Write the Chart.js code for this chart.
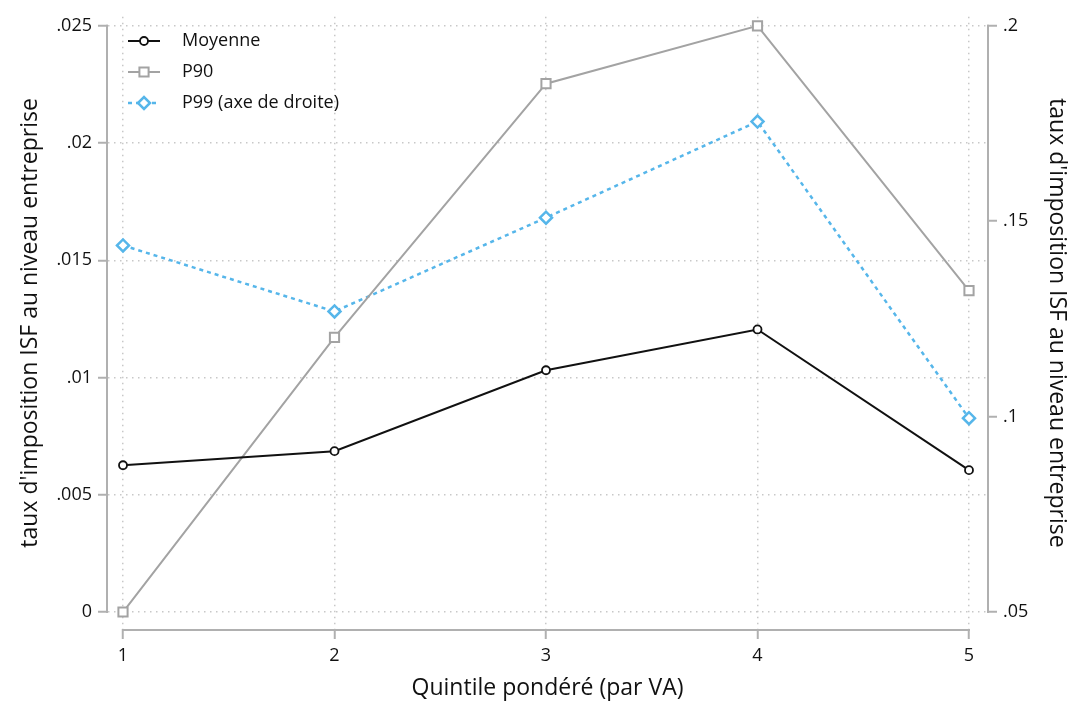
<!DOCTYPE html>
<html>
<head>
<meta charset="utf-8">
<script src="https://cdn.jsdelivr.net/npm/chart.js@4.4.1/dist/chart.umd.min.js"></script>
<style>
  html, body { margin: 0; padding: 0; background: #fff; }
  #wrap { width: 1070px; height: 702px; position: relative; }
</style>
</head>
<body>
<div id="wrap"><canvas id="myChart"></canvas></div>
<script>
// valeurs
const quintiles = [1, 2, 3, 4, 5];
const moyenne = [0.00626, 0.00686, 0.01031, 0.01205, 0.00605];
const p90 = [0.0000, 0.01171, 0.02253, 0.0250, 0.01371];
const p99 = [0.1438, 0.1269, 0.1509, 0.1755, 0.0996];

const xTicks = [1, 2, 3, 4, 5];
const leftTicks = [0, 0.005, 0.01, 0.015, 0.02, 0.025];
const rightTicks = [0.05, 0.1, 0.15, 0.2];

const seriesNames = ['Moyenne', 'P90', 'P99 (axe de droite)'];
const xTitle = 'Quintile pondéré (par VA)';
const yTitle = "taux d'imposition ISF au niveau entreprise";

const FONT = "'Open Sans', 'DejaVu Sans', sans-serif";
const axisColor = '#b0b0b0';
const gridColor = '#c8c8c8';

// marge autour de la plage des graduations (façon Stata)
function paddedRange(ticks, padLow, padHigh) {
    const lo = ticks[0], hi = ticks[ticks.length - 1];
    return { min: lo - (hi - lo) * padLow, max: hi + (hi - lo) * padHigh };
}
const xr = paddedRange(xTicks, 15 / 846, 18 / 846);
const yr = paddedRange(leftTicks, 17 / 587, 9 / 587);
const y1r = paddedRange(rightTicks, 17 / 587, 9 / 587);

function fmt(v) {
    if (v === 0) return '0';
    return String(+v.toFixed(4)).replace(/^0\./, '.');
}

function toPoints(vals) {
    return vals.map((v, i) => ({ x: quintiles[i], y: v }));
}

// lignes d'axes limitées à la plage des graduations
const axisLines = {
    id: 'axisLines',
    afterDraw(chart) {
        const ctx = chart.ctx;
        const { x, y, y1 } = chart.scales;
        ctx.save();
        ctx.strokeStyle = axisColor;
        ctx.lineWidth = 2;
        ctx.setLineDash([]);
        ctx.beginPath();
        ctx.moveTo(y.right - 1, y.getPixelForValue(leftTicks[leftTicks.length - 1]) - 1);
        ctx.lineTo(y.right - 1, y.getPixelForValue(leftTicks[0]) + 1);
        ctx.moveTo(y1.left + 1, y1.getPixelForValue(rightTicks[rightTicks.length - 1]) - 1);
        ctx.lineTo(y1.left + 1, y1.getPixelForValue(rightTicks[0]) + 1);
        ctx.moveTo(x.getPixelForValue(xTicks[0]) - 1, x.top + 1);
        ctx.lineTo(x.getPixelForValue(xTicks[xTicks.length - 1]) + 1, x.top + 1);
        ctx.stroke();
        ctx.restore();
    }
};

// légende dans la zone du graphique, en haut à gauche
const insideLegend = {
    id: 'insideLegend',
    afterDraw(chart) {
        const ctx = chart.ctx;
        ctx.save();
        chart.data.datasets.forEach((ds, i) => {
            const yy = 41 + i * 31;
            ctx.strokeStyle = ds.borderColor;
            ctx.lineWidth = ds.borderWidth;
            ctx.setLineDash(ds.borderDash || []);
            ctx.beginPath();
            ctx.moveTo(128, yy);
            ctx.lineTo(160, yy);
            ctx.stroke();
            ctx.setLineDash([]);
            ctx.fillStyle = '#fff';
            ctx.strokeStyle = ds.pointBorderColor;
            ctx.lineWidth = ds.pointBorderWidth;
            Chart.helpers.drawPoint(ctx, {
                pointStyle: ds.pointStyle,
                radius: ds.pointRadius,
                borderWidth: ds.pointBorderWidth,
                rotation: 0
            }, 144, yy);
            ctx.fillStyle = '#111';
            ctx.font = '18px ' + FONT;
            ctx.textBaseline = 'middle';
            ctx.textAlign = 'left';
            ctx.fillText(ds.label, 182, yy);
        });
        ctx.restore();
    }
};

const gridOpts = {
    color: gridColor,
    lineWidth: 1.5,
    tickColor: axisColor,
    tickWidth: 2,
    tickBorderDash: [],
    tickLength: 10
};

const ctx = document.getElementById('myChart').getContext('2d');
new Chart(ctx, {
    type: 'line',
    data: {
        datasets: [
            {
                label: seriesNames[0],
                data: toPoints(moyenne),
                yAxisID: 'y',
                borderColor: '#111111',
                borderWidth: 2,
                pointStyle: 'circle',
                pointRadius: 4,
                pointBorderWidth: 1.8,
                pointBorderColor: '#111111',
                pointBackgroundColor: '#ffffff',
                tension: 0,
                clip: false
            },
            {
                label: seriesNames[1],
                data: toPoints(p90),
                yAxisID: 'y',
                borderColor: '#a3a3a3',
                borderWidth: 2,
                pointStyle: 'rect',
                pointRadius: 6.5,
                pointBorderWidth: 2,
                pointBorderColor: '#a3a3a3',
                pointBackgroundColor: '#ffffff',
                tension: 0,
                clip: false
            },
            {
                label: seriesNames[2],
                data: toPoints(p99),
                yAxisID: 'y1',
                borderColor: '#56b6ea',
                borderWidth: 2.5,
                borderDash: [4, 4],
                pointStyle: 'rectRot',
                pointRadius: 6,
                pointBorderWidth: 2.5,
                pointBorderColor: '#56b6ea',
                pointBackgroundColor: '#ffffff',
                tension: 0,
                clip: false
            }
        ]
    },
    options: {
        responsive: true,
        maintainAspectRatio: false,
        animation: false,
        layout: { padding: { top: 10, right: 0, left: 0, bottom: 0 } },
        plugins: {
            legend: { display: false },
            tooltip: { enabled: false }
        },
        scales: {
            x: {
                type: 'linear',
                position: 'bottom',
                min: xr.min,
                max: xr.max,
                afterBuildTicks: (axis) => { axis.ticks = xTicks.map(v => ({ value: v })); },
                afterFit: (scale) => { scale.height = 73; },
                border: { display: false, dash: [1.5, 4.5] },
                grid: gridOpts,
                ticks: {
                    color: '#111',
                    font: { family: FONT, size: 18 },
                    padding: 6,
                    maxRotation: 0,
                    callback: (v) => String(v)
                },
                title: {
                    display: true,
                    text: xTitle,
                    color: '#111',
                    font: { family: FONT, size: 23 },
                    padding: { top: 0, bottom: 0 }
                }
            },
            y: {
                type: 'linear',
                position: 'left',
                min: yr.min,
                max: yr.max,
                afterBuildTicks: (axis) => { axis.ticks = leftTicks.map(v => ({ value: v })); },
                afterFit: (scale) => { scale.width = 108; },
                border: { display: false, dash: [1.5, 4.5] },
                grid: gridOpts,
                ticks: {
                    color: '#111',
                    font: { family: FONT, size: 18 },
                    padding: 6,
                    callback: (v) => fmt(v)
                },
                title: {
                    display: true,
                    text: yTitle,
                    color: '#111',
                    font: { family: FONT, size: 23 },
                    padding: { top: 17, bottom: 0 }
                }
            },
            y1: {
                type: 'linear',
                position: 'right',
                min: y1r.min,
                max: y1r.max,
                afterBuildTicks: (axis) => { axis.ticks = rightTicks.map(v => ({ value: v })); },
                afterFit: (scale) => { scale.width = 83; },
                border: { display: false },
                grid: Object.assign({}, gridOpts, { drawOnChartArea: false }),
                ticks: {
                    color: '#111',
                    font: { family: FONT, size: 18 },
                    padding: 6,
                    callback: (v) => fmt(v)
                },
                title: {
                    display: true,
                    text: yTitle,
                    color: '#111',
                    font: { family: FONT, size: 23 },
                    padding: { top: 0, bottom: 0 }
                }
            }
        }
    },
    plugins: [axisLines, insideLegend]
});
</script>
</body>
</html>
